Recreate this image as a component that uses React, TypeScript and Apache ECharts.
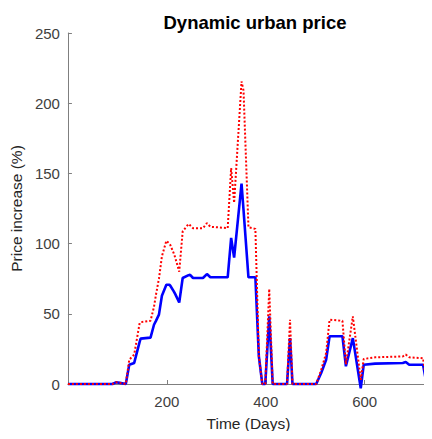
import React, { useEffect, useRef } from "react";
import * as echarts from "echarts";

const days = [0, 90, 97, 105, 117, 124, 134, 145, 147, 167, 174, 178, 184, 190, 199, 205, 207, 214, 217, 225, 232, 244, 247, 253, 273, 281, 288, 323, 330, 336, 351, 355, 365, 379, 386, 393, 399, 407, 414, 443, 449, 454, 502, 512, 522, 529, 555, 562, 576, 592, 598, 621, 677, 683, 690, 718, 725];
const dynamicPrice = [0, 0, 1.2, 0.8, 0, 13.7, 15, 30, 32.3, 33, 42.2, 45, 49.4, 62.9, 70.7, 70.7, 70, 66, 64, 58, 75.5, 77.5, 77.8, 75.5, 75.5, 78.3, 76, 76, 104, 90, 142.7, 124, 76, 76, 19.7, 0, 0, 48.2, 0, 0, 32.7, 0, 0, 7.8, 17.3, 34, 34, 12.6, 32.7, -3, 13.7, 14.5, 15, 15.7, 13.7, 13.7, 0];
const upperPrice = [0, 0, 1.2, 0.8, 0, 17.3, 21, 43.4, 44, 45, 55, 63.6, 75, 90.9, 102, 100, 99, 93, 90, 80, 108.7, 114, 113, 111, 111, 114.6, 112, 111, 153.8, 129, 215.5, 209, 111.6, 110.5, 20, 0, 0, 67.7, 0, 0, 45.8, 0, 0, 10, 22, 45.8, 45, 14, 48.2, 3, 17.8, 19, 19.6, 21, 19, 18.4, 0];
const yTicks = [0, 50, 100, 150, 200, 250];
const xTickLabels = [200, 400, 600];

const FONT = "'Liberation Sans', Arial, Helvetica, sans-serif";

export default function App() {
  const ref = useRef<HTMLDivElement>(null);
  useEffect(() => {
    if (!ref.current) return;
    const chart = echarts.init(ref.current, undefined, { renderer: "svg" });
    const blue = days.map((d, i) => [d, dynamicPrice[i]]);
    const red = days.map((d, i) => [d, upperPrice[i]]);
    chart.setOption({
      animation: false,
      backgroundColor: "#ffffff",
      title: {
        text: "Dynamic urban price",
        left: 250,
        textAlign: "center",
        top: 8,
        textStyle: { fontFamily: FONT, fontSize: 18.5, fontWeight: "bold", color: "#000" },
      },
      grid: { left: 64, right: 0, top: 33, bottom: 55, containLabel: false },
      xAxis: {
        type: "value",
        min: 0,
        max: 730,
        interval: 200,
        name: "Time (Days)",
        nameLocation: "middle",
        nameGap: 31,
        nameTextStyle: { fontFamily: FONT, fontSize: 15.5, color: "#262626" },
        axisLine: { show: true, lineStyle: { color: "#7f7f7f", width: 1 } },
        axisTick: { show: true, inside: true, length: 4, lineStyle: { color: "#7f7f7f" } },
        axisLabel: {
          fontFamily: FONT,
          fontSize: 15,
          color: "#404040",
          margin: 10,
          formatter: (v: number) => (xTickLabels.includes(v) ? String(v) : ""),
        },
        splitLine: { show: false },
      },
      yAxis: {
        type: "value",
        min: yTicks[0],
        max: yTicks[yTicks.length - 1],
        interval: 50,
        name: "Price increase (%)",
        nameLocation: "middle",
        nameGap: 43,
        nameTextStyle: { fontFamily: FONT, fontSize: 15.5, color: "#262626" },
        axisLine: { show: true, lineStyle: { color: "#7f7f7f", width: 1 } },
        axisTick: { show: true, inside: true, length: 4, lineStyle: { color: "#7f7f7f" } },
        axisLabel: { fontFamily: FONT, fontSize: 15, color: "#404040", margin: 8 },
        splitLine: { show: false },
      },
      series: [
        {
          name: "Dynamic price",
          type: "line",
          data: blue,
          showSymbol: false,
          symbol: "none",
          clip: false,
          lineStyle: { color: "#0000ff", width: 2.6 },
        },
        {
          name: "Upper price",
          type: "line",
          data: red,
          showSymbol: false,
          symbol: "none",
          clip: false,
          lineStyle: { color: "#ff0000", width: 2, type: [2, 2] },
        },
      ],
    });
    return () => chart.dispose();
  }, []);
  return <div ref={ref} style={{ width: 432, height: 439, margin: -8 }} />;
}
